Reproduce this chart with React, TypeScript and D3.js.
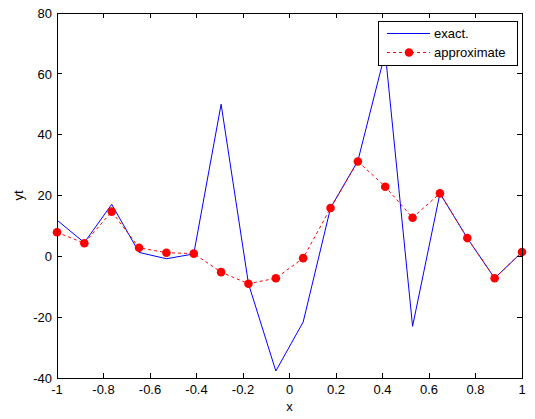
import React from "react";
import * as d3 from "d3";

const xs = [-1, -0.8824, -0.7647, -0.6471, -0.5294, -0.4118, -0.2941, -0.1765, -0.0588, 0.0588, 0.1765, 0.2941, 0.4118, 0.5294, 0.6471, 0.7647, 0.8824, 1];
const exact = [11.9, 4.5, 17.1, 1.3, -0.8, 0.8, 50, -9, -37.7, -21.6, 15.9, 31.4, 67, -23, 20.7, 6, -7.2, 1.4];
const approx = [7.9, 4.3, 14.7, 2.8, 1.2, 0.9, -5.2, -9, -7.2, -0.6, 15.9, 31.2, 22.9, 12.7, 20.7, 6, -7.2, 1.4];
const xTicks = [-1, -0.8, -0.6, -0.4, -0.2, 0, 0.2, 0.4, 0.6, 0.8, 1];
const yTicks = [-40, -20, 0, 20, 40, 60, 80];
const legendLabels = ["exact.", "approximate"];

const W = 535, H = 419;
const L = 57, R = 522, T = 13, B = 378;
const FONT = "'Liberation Sans', Arial, sans-serif";

export default function App() {
  const x = d3.scaleLinear().domain([-1, 1]).range([L, R]);
  const y = d3.scaleLinear().domain([-40, 80]).range([B, T]);
  const line = d3.line<number>().x((_, i) => x(xs[i])).y((d) => y(d));
  const fmt = (v: number) => (v === 0 ? "0" : String(v));
  return (
    <svg width={W} height={H} style={{ position: "absolute", left: 0, top: 0, background: "#fff" }}>
      <rect x={0} y={0} width={W} height={H} fill="#fff" />
      <path d={line(exact) || ""} fill="none" stroke="#0000ff" strokeWidth={1} />
      <path d={line(approx) || ""} fill="none" stroke="#ff0000" strokeWidth={1} strokeDasharray="3,3" />
      {approx.map((v, i) => (
        <circle key={i} cx={x(xs[i])} cy={y(v)} r={4.3} fill="#ff0000" />
      ))}
      <rect x={L} y={T} width={R - L} height={B - T} fill="none" stroke="#000" strokeWidth={1} shapeRendering="crispEdges" />
      {xTicks.map((t) => (
        <g key={"x" + t}>
          <line x1={x(t)} x2={x(t)} y1={B} y2={B - 5} stroke="#000" shapeRendering="crispEdges" />
          <line x1={x(t)} x2={x(t)} y1={T} y2={T + 5} stroke="#000" shapeRendering="crispEdges" />
          <text x={x(t)} y={394} textAnchor="middle" fontFamily={FONT} fontSize={13}>{fmt(t)}</text>
        </g>
      ))}
      {yTicks.map((t) => (
        <g key={"y" + t}>
          <line x1={L} x2={L + 5} y1={y(t)} y2={y(t)} stroke="#000" shapeRendering="crispEdges" />
          <line x1={R} x2={R - 5} y1={y(t)} y2={y(t)} stroke="#000" shapeRendering="crispEdges" />
          <text x={52} y={y(t) + 4.7} textAnchor="end" fontFamily={FONT} fontSize={13}>{fmt(t)}</text>
        </g>
      ))}
      <text x={(L + R) / 2} y={411} textAnchor="middle" fontFamily={FONT} fontSize={13}>x</text>
      <text transform={`translate(23,${(T + B) / 2}) rotate(-90)`} textAnchor="middle" fontFamily={FONT} fontSize={13}>yt</text>
      <g>
        <rect x={378.5} y={21.5} width={138.5} height={43.5} fill="#fff" stroke="#000" strokeWidth={1} shapeRendering="crispEdges" />
        <line x1={387} x2={430} y1={33.5} y2={33.5} stroke="#0000ff" strokeWidth={1} />
        <text x={434} y={38} fontFamily={FONT} fontSize={13}>{legendLabels[0]}</text>
        <line x1={387} x2={430} y1={52.5} y2={52.5} stroke="#ff0000" strokeWidth={1} strokeDasharray="3,3" />
        <circle cx={409} cy={52.5} r={4.3} fill="#ff0000" />
        <text x={434} y={57} fontFamily={FONT} fontSize={13}>{legendLabels[1]}</text>
      </g>
    </svg>
  );
}
